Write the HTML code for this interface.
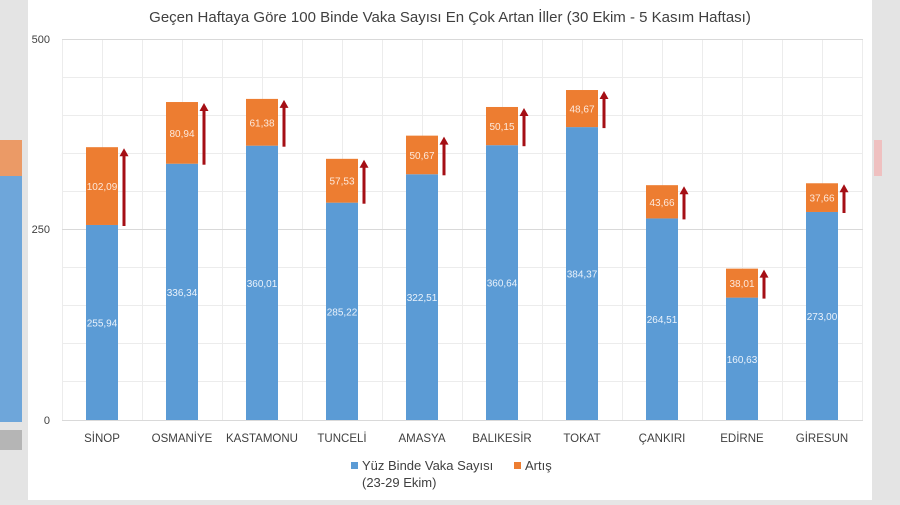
<!DOCTYPE html>
<html><head><meta charset="utf-8"><style>
body{margin:0;width:900px;height:500px;overflow:hidden;background:#e6e6e6;font-family:"Liberation Sans",sans-serif}
</style></head><body>
<svg width="900" height="500" xmlns="http://www.w3.org/2000/svg" font-family="Liberation Sans, sans-serif">
<rect width="900" height="500" fill="#e4e4e4"/>
<rect x="0" y="140" width="22" height="36" fill="#eb9a66"/>
<rect x="0" y="176" width="22" height="246" fill="#6ea6da"/>
<rect x="0" y="430" width="22" height="20" fill="#b5b5b5"/>
<rect x="874" y="140" width="8" height="36" fill="#efc0c0"/>
<rect x="28" y="0" width="844" height="500" fill="#fff"/>
<text x="450" y="22" text-anchor="middle" font-size="15" fill="#404040">Geçen Haftaya Göre 100 Binde Vaka Sayısı En Çok Artan İller (30 Ekim - 5 Kasım Haftası)</text>
<g stroke="#ececec" stroke-width="1">
<line x1="62" y1="77.5" x2="863" y2="77.5"/><line x1="62" y1="115.5" x2="863" y2="115.5"/><line x1="62" y1="153.5" x2="863" y2="153.5"/><line x1="62" y1="191.5" x2="863" y2="191.5"/><line x1="62" y1="267.5" x2="863" y2="267.5"/><line x1="62" y1="305.5" x2="863" y2="305.5"/><line x1="62" y1="343.5" x2="863" y2="343.5"/><line x1="62" y1="381.5" x2="863" y2="381.5"/>
<line x1="62.5" y1="39" x2="62.5" y2="420"/><line x1="102.5" y1="39" x2="102.5" y2="420"/><line x1="142.5" y1="39" x2="142.5" y2="420"/><line x1="182.5" y1="39" x2="182.5" y2="420"/><line x1="222.5" y1="39" x2="222.5" y2="420"/><line x1="262.5" y1="39" x2="262.5" y2="420"/><line x1="302.5" y1="39" x2="302.5" y2="420"/><line x1="342.5" y1="39" x2="342.5" y2="420"/><line x1="382.5" y1="39" x2="382.5" y2="420"/><line x1="422.5" y1="39" x2="422.5" y2="420"/><line x1="462.5" y1="39" x2="462.5" y2="420"/><line x1="502.5" y1="39" x2="502.5" y2="420"/><line x1="542.5" y1="39" x2="542.5" y2="420"/><line x1="582.5" y1="39" x2="582.5" y2="420"/><line x1="622.5" y1="39" x2="622.5" y2="420"/><line x1="662.5" y1="39" x2="662.5" y2="420"/><line x1="702.5" y1="39" x2="702.5" y2="420"/><line x1="742.5" y1="39" x2="742.5" y2="420"/><line x1="782.5" y1="39" x2="782.5" y2="420"/><line x1="822.5" y1="39" x2="822.5" y2="420"/><line x1="862.5" y1="39" x2="862.5" y2="420"/>
</g>
<g stroke="#d9d9d9"><line x1="62" y1="39.5" x2="863" y2="39.5"/><line x1="62" y1="229.5" x2="863" y2="229.5"/><line x1="62" y1="420.5" x2="863" y2="420.5"/></g>
<g font-size="11" fill="#404040" text-anchor="end"><text x="50" y="43">500</text><text x="50" y="233">250</text><text x="50" y="424">0</text></g>

<g fill="#5b9bd5">
<rect x="86" y="224.97" width="32" height="195.03"/>
<rect x="166" y="163.71" width="32" height="256.29"/>
<rect x="246" y="145.67" width="32" height="274.33"/>
<rect x="326" y="202.66" width="32" height="217.34"/>
<rect x="406" y="174.25" width="32" height="245.75"/>
<rect x="486" y="145.19" width="32" height="274.81"/>
<rect x="566" y="127.11" width="32" height="292.89"/>
<rect x="646" y="218.44" width="32" height="201.56"/>
<rect x="726" y="297.60" width="32" height="122.40"/>
<rect x="806" y="211.97" width="32" height="208.03"/>
</g>
<g fill="#ed7d31">
<rect x="86" y="147.18" width="32" height="77.79"/>
<rect x="166" y="102.03" width="32" height="61.68"/>
<rect x="246" y="98.90" width="32" height="46.77"/>
<rect x="326" y="158.82" width="32" height="43.84"/>
<rect x="406" y="135.64" width="32" height="38.61"/>
<rect x="486" y="106.98" width="32" height="38.21"/>
<rect x="566" y="90.02" width="32" height="37.09"/>
<rect x="646" y="185.17" width="32" height="33.27"/>
<rect x="726" y="268.64" width="32" height="28.96"/>
<rect x="806" y="183.27" width="32" height="28.70"/>
</g>
<g font-size="10" fill="#eaf2fb" text-anchor="middle">
<text x="102" y="326.5">255,94</text>
<text x="182" y="295.9">336,34</text>
<text x="262" y="286.8">360,01</text>
<text x="342" y="315.3">285,22</text>
<text x="422" y="301.1">322,51</text>
<text x="502" y="286.6">360,64</text>
<text x="582" y="277.6">384,37</text>
<text x="662" y="323.2">264,51</text>
<text x="742" y="362.8">160,63</text>
<text x="822" y="320.0">273,00</text>
</g>
<g font-size="10" fill="#fde9dc" text-anchor="middle">
<text x="102" y="190.1">102,09</text>
<text x="182" y="136.9">80,94</text>
<text x="262" y="126.3">61,38</text>
<text x="342" y="184.7">57,53</text>
<text x="422" y="158.9">50,67</text>
<text x="502" y="130.1">50,15</text>
<text x="582" y="112.6">48,67</text>
<text x="662" y="205.8">43,66</text>
<text x="742" y="287.1">38,01</text>
<text x="822" y="201.6">37,66</text>
</g>
<g stroke="#a50f15" stroke-width="3">
<line x1="124" y1="226" x2="124" y2="155"/>
<line x1="204" y1="164.7" x2="204" y2="110"/>
<line x1="284" y1="146.7" x2="284" y2="107"/>
<line x1="364" y1="203.7" x2="364" y2="167"/>
<line x1="444" y1="175.3" x2="444" y2="144"/>
<line x1="524" y1="146.2" x2="524" y2="115"/>
<line x1="604" y1="128.1" x2="604" y2="98"/>
<line x1="684" y1="219.4" x2="684" y2="193"/>
<line x1="764" y1="298.6" x2="764" y2="277"/>
<line x1="844" y1="213" x2="844" y2="191"/>
</g>
<g fill="#a50f15">
<polygon points="119.5,156.2 128.5,156.2 124,148.2"/>
<polygon points="199.5,111 208.5,111 204,103"/>
<polygon points="279.5,107.9 288.5,107.9 284,99.9"/>
<polygon points="359.5,167.8 368.5,167.8 364,159.8"/>
<polygon points="439.5,144.6 448.5,144.6 444,136.6"/>
<polygon points="519.5,116 528.5,116 524,108"/>
<polygon points="599.5,99 608.5,99 604,91"/>
<polygon points="679.5,194.2 688.5,194.2 684,186.2"/>
<polygon points="759.5,277.6 768.5,277.6 764,269.6"/>
<polygon points="839.5,192.3 848.5,192.3 844,184.3"/>
</g>
<g font-size="11.5" fill="#404040" text-anchor="middle">
<text x="102" y="442">SİNOP</text><text x="182" y="442">OSMANİYE</text><text x="262" y="442">KASTAMONU</text><text x="342" y="442">TUNCELİ</text><text x="422" y="442">AMASYA</text><text x="502" y="442">BALIKESİR</text><text x="582" y="442">TOKAT</text><text x="662" y="442">ÇANKIRI</text><text x="742" y="442">EDİRNE</text><text x="822" y="442">GİRESUN</text>
</g>
<rect x="351" y="462" width="7" height="7" fill="#5b9bd5"/>
<text x="362" y="470" font-size="13" fill="#404040">Yüz Binde Vaka Sayısı</text>
<text x="362" y="487" font-size="13" fill="#404040">(23-29 Ekim)</text>
<rect x="514" y="462" width="7" height="7" fill="#ed7d31"/>
<text x="525" y="470" font-size="13" fill="#404040">Artış</text>
</svg>
</body></html>
